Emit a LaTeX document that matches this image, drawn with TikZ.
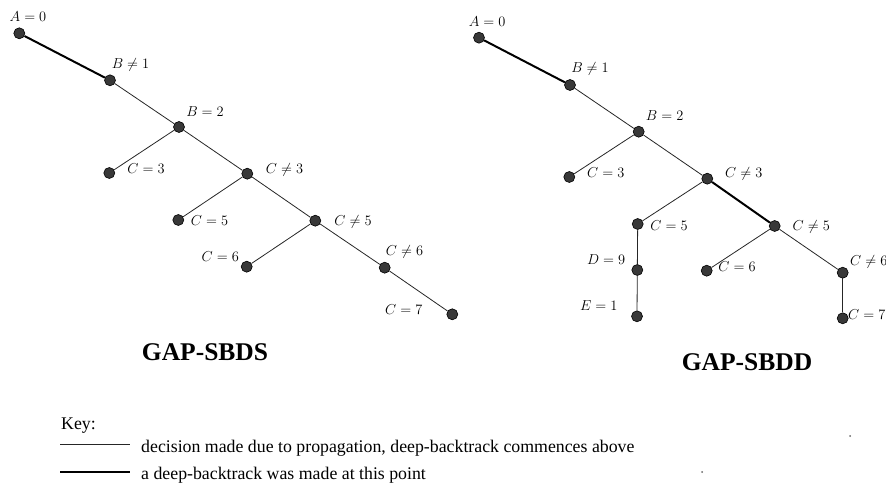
\documentclass[tikz,border=0pt]{standalone}
\usepackage{fontspec}
\setmainfont{Liberation Serif}
\begin{document}
\begin{tikzpicture}[x=1pt,y=-1pt,
  dot/.style={circle,fill=black!78,draw=black,line width=0.6pt,inner sep=0pt,minimum size=11pt},
  lbl/.style={inner sep=0pt,font=\fontsize{14.4}{18}\selectfont},
  title/.style={inner sep=0pt,font=\fontsize{25.5}{30}\selectfont\bfseries},
  keytext/.style={inner sep=0pt,anchor=base west,font=\fontsize{17.8}{21}\selectfont},
  thinedge/.style={draw=black!85,line width=0.8pt},
  thickedge/.style={draw=black,line width=2pt},
  speck/.style={circle,fill=black!60,inner sep=0pt,minimum size=2pt}]
\useasboundingbox (0,0) rectangle (886,486);

% ---------- GAP-SBDS search tree ----------
\node[dot] (lA)   at (19.3,33.3) {};
\node[dot] (lBn1) at (110,80.3) {};
\node[dot] (lB2)  at (179,127) {};
\node[dot] (lC3)  at (109.3,173) {};
\node[dot] (lCn3) at (247.3,173.7) {};
\node[dot] (lC5)  at (178.3,220) {};
\node[dot] (lCn5) at (315.3,220.7) {};
\node[dot] (lC6)  at (246.7,266.7) {};
\node[dot] (lCn6) at (384.7,267.7) {};
\node[dot] (lC7)  at (452.3,314.3) {};

\draw[thickedge] (lA) -- (lBn1);
\draw[thinedge] (lBn1) -- (lB2);
\draw[thinedge] (lB2) -- (lC3);
\draw[thinedge] (lB2) -- (lCn3);
\draw[thinedge] (lCn3) -- (lC5);
\draw[thinedge] (lCn3) -- (lCn5);
\draw[thinedge] (lCn5) -- (lC6);
\draw[thinedge] (lCn5) -- (lCn6);
\draw[thinedge] (lCn6) -- (lC7);

\node[lbl] (tlA)   at (28,17)      {$A=0$};
\node[lbl] (tlBn1) at (130.5,64.7) {$B\neq1$};
\node[lbl] (tlB2)  at (205,111.3)  {$B=2$};
\node[lbl] (tlC3)  at (146,169)    {$C=3$};
\node[lbl] (tlCn3) at (284.5,170)  {$C\neq3$};
\node[lbl] (tlC5)  at (209.5,221)  {$C=5$};
\node[lbl] (tlCn5) at (353,222.3)  {$C\neq5$};
\node[lbl] (tlC6)  at (220.3,256.3) {$C=6$};
\node[lbl] (tlCn6) at (404.5,252)  {$C\neq6$};
\node[lbl] (tlC7)  at (403.8,310)  {$C=7$};

\node[title] (ttl) at (205,352) {GAP-SBDS};

% ---------- GAP-SBDD search tree ----------
\node[dot] (rA)   at (479,37.7) {};
\node[dot] (rBn1) at (570,85) {};
\node[dot] (rB2)  at (638.7,131.7) {};
\node[dot] (rC3)  at (569.3,177) {};
\node[dot] (rCn3) at (707.3,178.7) {};
\node[dot] (rC5)  at (637.7,224) {};
\node[dot] (rCn5) at (774.7,226) {};
\node[dot] (rD9)  at (637.3,270) {};
\node[dot] (rC6)  at (706.7,270.7) {};
\node[dot] (rCn6) at (842.7,272.7) {};
\node[dot] (rE1)  at (637,316.3) {};
\node[dot] (rC7)  at (842.7,318.3) {};

\draw[thickedge] (rA) -- (rBn1);
\draw[thinedge] (rBn1) -- (rB2);
\draw[thinedge] (rB2) -- (rC3);
\draw[thinedge] (rB2) -- (rCn3);
\draw[thinedge] (rCn3) -- (rC5);
\draw[thickedge] (rCn3) -- (rCn5);
\draw[thinedge] (rCn5) -- (rC6);
\draw[thinedge] (rCn5) -- (rCn6);
\draw[thinedge] (rC5) -- (rD9);
\draw[thinedge] (rD9) -- (rE1);
\draw[thinedge] (rCn6) -- (rC7);

\node[lbl] (trA)   at (487.2,22)    {$A=0$};
\node[lbl] (trBn1) at (590,69)      {$B\neq1$};
\node[lbl] (trB2)  at (664.7,115.7) {$B=2$};
\node[lbl] (trC3)  at (605.8,173)   {$C=3$};
\node[lbl] (trCn3) at (743.8,174.3) {$C\neq3$};
\node[lbl] (trC5)  at (669,226)     {$C=5$};
\node[lbl] (trCn5) at (811.3,227.3) {$C\neq5$};
\node[lbl] (trD9)  at (606.2,260)   {$D=9$};
\node[lbl] (trC6)  at (737,266.7)   {$C=6$};
\node[lbl] (trCn6) at (868.8,262.3) {$C\neq6$};
\node[lbl] (trE1)  at (598.8,305.7) {$E=1$};
\node[lbl] (trC7)  at (866.8,314.3) {$C=7$};

\node[title] (ttr) at (747,362) {GAP-SBDD};

% ---------- key ----------
\node[keytext] (key) at (61,429.3) {Key:};
\coordinate (k1a) at (60,444.3);
\coordinate (k1b) at (130,444.3);
\coordinate (k2a) at (60,471.7);
\coordinate (k2b) at (130,471.7);
\draw[thinedge] (k1a) -- (k1b);
\draw[thickedge] (k2a) -- (k2b);
\node[keytext] (kt1) at (141,452.7) {decision made due to propagation, deep-backtrack commences above};
\node[keytext] (kt2) at (141,479.3) {a deep-backtrack was made at this point};

% small specks
\node[speck] (s1) at (850,436) {};
\node[speck] (s2) at (702,472) {};
\end{tikzpicture}
\end{document}
